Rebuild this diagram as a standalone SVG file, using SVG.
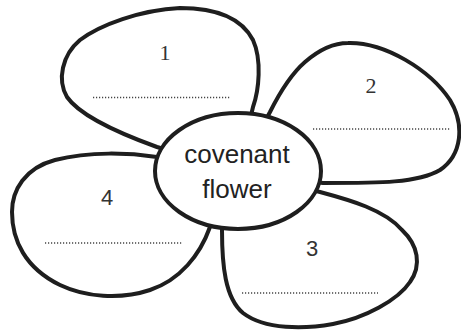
<svg xmlns="http://www.w3.org/2000/svg" width="461" height="331" viewBox="0 0 461 331">
<style>
.petal{fill:#fff;stroke:#1e1e1e;stroke-width:4;stroke-linejoin:round}
.dots{stroke:#444;stroke-width:1.3;stroke-dasharray:1.2 1.8;fill:none}
.num{font-size:22px;fill:#333;text-anchor:middle}
.serif{font-family:"Liberation Serif","Times New Roman",serif}
.sans{font-family:"Liberation Sans",Arial,sans-serif}
.center{font-family:"Liberation Sans",Arial,sans-serif;font-size:26px;fill:#222;text-anchor:middle}
</style>
<rect width="461" height="331" fill="#fff"/>
<g id="petal1">
<path class="petal" d="M 253,107 C 259,90 262,60 253,40 C 240,15 210,8 180,8 C 140,10 100,25 80,40 C 62,55 57,80 67,97 C 78,113 110,130 157,147 L 238,171 Z"/>
<text class="num serif" x="165" y="60">1</text>
<line class="dots" x1="93" y1="97.5" x2="230" y2="97.5"/>
</g>
<g id="petal2">
<path class="petal" d="M 270,112 C 280,92 290,75 305,62 C 320,49 335,43 348,43 C 385,42 430,70 450,100 C 465,125 462,155 440,170 C 418,183 380,183 323,183 L 238,171 Z"/>
<text class="num serif" x="371" y="93">2</text>
<line class="dots" x1="313" y1="129" x2="450" y2="129"/>
</g>
<g id="petal3">
<path class="petal" d="M 320,192 C 350,200 385,210 402,230 C 418,245 422,265 410,282 C 398,300 365,318 333,324 C 305,329 265,330 243,313 C 225,298 222,265 222,230 L 238,171 Z"/>
<text class="num sans" x="312" y="256">3</text>
<line class="dots" x1="242" y1="293" x2="378" y2="293"/>
</g>
<g id="petal4">
<path class="petal" d="M 157,157 C 130,153 90,151 55,160 C 25,168 12,190 12,212 C 12,240 25,268 60,285 C 85,297 120,300 150,290 C 180,280 200,255 210,227 L 238,171 Z"/>
<text class="num sans" x="107" y="205">4</text>
<line class="dots" x1="45" y1="243" x2="182" y2="243"/>
</g>
<g id="center">
<ellipse cx="238" cy="171" rx="83" ry="58" fill="#fff" stroke="#1e1e1e" stroke-width="4"/>
<text class="center" x="237" y="163">covenant</text>
<text class="center" x="237" y="198">flower</text>
</g>
<g id="connectors"/>
</svg>
